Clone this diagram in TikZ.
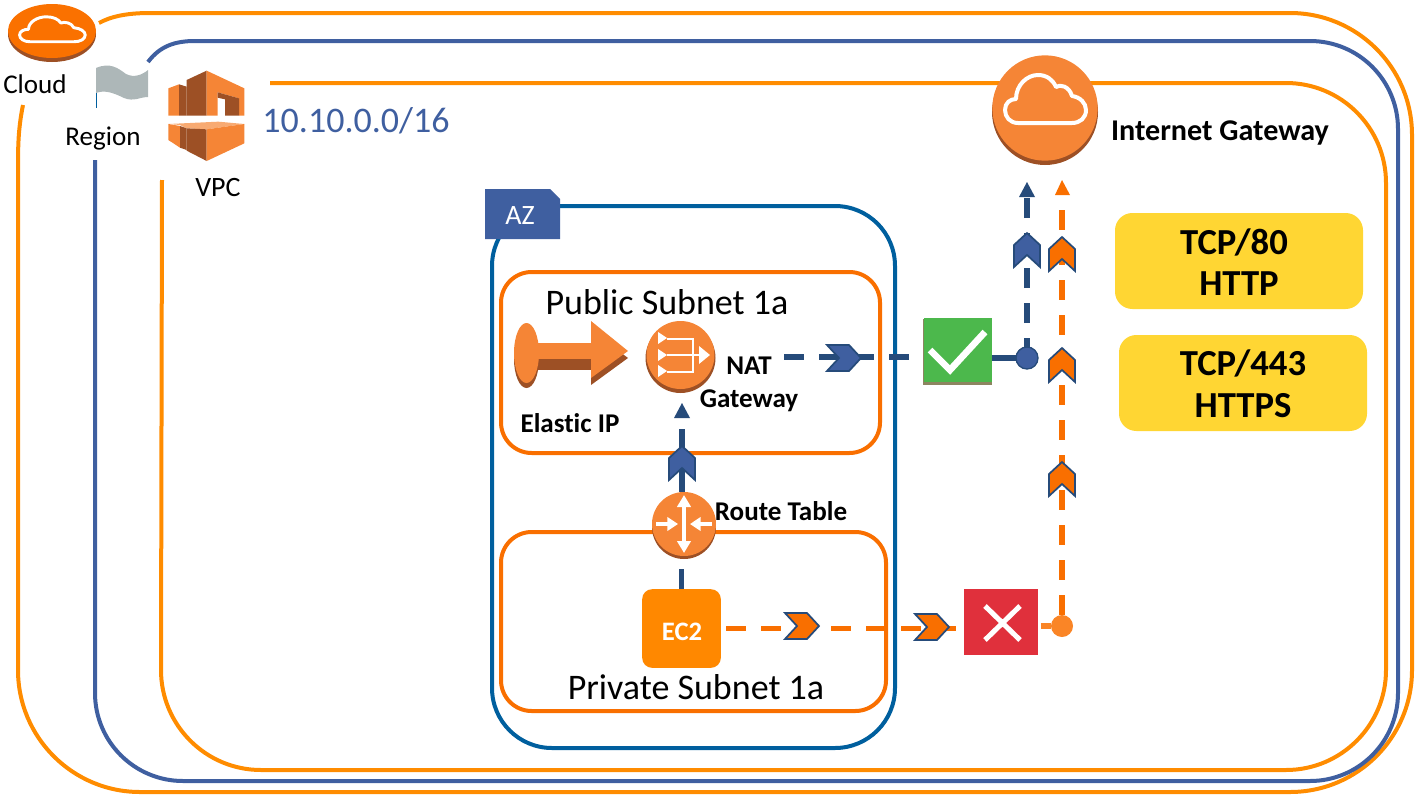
\documentclass[tikz,border=0pt]{standalone}
\usepackage{fontspec}
\setmainfont{Carlito}[Ligatures=NoCommon]
\usetikzlibrary{arrows.meta,shapes.geometric}
\definecolor{frameor}{HTML}{FF8C00}
\definecolor{subor}{HTML}{F96F00}
\definecolor{regblue}{HTML}{3F5FA0}
\definecolor{azblue}{HTML}{005F9E}
\definecolor{dkblue}{HTML}{264B7A}
\definecolor{iconor}{HTML}{F58536}
\definecolor{icondk}{HTML}{9D5025}
\definecolor{flaggrey}{HTML}{ADB7B8}
\definecolor{tcpyel}{HTML}{FFD633}
\definecolor{ectwo}{HTML}{FF8800}
\definecolor{okgreen}{HTML}{4CB84C}
\definecolor{okshade}{HTML}{8C8560}
\definecolor{badred}{HTML}{E0303C}
\newcommand{\fs}[1]{\fontsize{#1}{#1}\selectfont}
\tikzset{
  frameline/.style={line width=3pt},
  subnet/.style={draw=subor,line width=3pt,rounded corners=23pt},
  lbl/.style={inner sep=0pt,text=black,font=\fs{20.3}},
  blbl/.style={inner sep=0pt,text=black,font=\fs{20.3}\bfseries},
  sublbl/.style={inner sep=0pt,text=black,font=\fs{27}},
  tcp/.style={fill=tcpyel,rounded corners=13pt,inner sep=0pt},
  tcptext/.style={inner sep=0pt,text=black,font=\fs{27.5}\bfseries},
  bluedash/.style={draw=dkblue,line width=3.8pt,dash pattern=on 15pt off 11.25pt},
  ordash/.style={draw=subor,line width=3.8pt,dash pattern=on 15pt off 11.25pt},
  blueline/.style={draw=dkblue,line width=3.8pt},
  orline/.style={draw=subor!85!white,line width=3.8pt},
  iconcirc/.style={circle,fill=iconor,inner sep=0pt},
  chev/.pic={
    \path[pic actions,line width=1.3pt,draw=dkblue,line join=miter]
      (-17,-13) -- (5,-13) -- (17,0) -- (5,13) -- (-17,13) -- (-5,0) -- cycle;
  },
  cloudpath/.pic={
    \draw[white,line width=#1,line join=round,pic actions]
      (-27,13) .. controls (-35,13) and (-40,7) .. (-40,0)
      .. controls (-40,-7) and (-35,-11) .. (-29,-11)
      .. controls (-29,-25) and (-18,-35) .. (-7,-35)
      .. controls (2,-35) and (8,-30) .. (11,-23)
      .. controls (15,-26) and (24,-24) .. (27,-14)
      .. controls (35,-13) and (41,-7) .. (41,0)
      .. controls (41,8) and (35,13) .. (27,13) -- cycle;
  }
}
\begin{document}
\begin{tikzpicture}[x=0.75pt,y=-0.75pt]
\useasboundingbox (0,0) rectangle (1424,803);
% frames
\draw[frameline,frameor] (23,105) .. controls (19,125) and (18,140) .. (18,165)
  -- (18,670) arc[start angle=180,end angle=90,radius=122] -- (1290,792)
  arc[start angle=90,end angle=0,radius=122] -- (1412,135)
  arc[start angle=0,end angle=-90,radius=122] -- (150,13)
  .. controls (125,13) and (110,17) .. (99,23);
\draw[frameline,regblue] (95,160) -- (95,693) arc[start angle=180,end angle=90,radius=88] -- (1310,781)
  arc[start angle=90,end angle=0,radius=88] -- (1398,129)
  arc[start angle=0,end angle=-90,radius=88] -- (195,41)
  .. controls (175,41) and (160,46) .. (148,62);
\draw[frameline,frameor] (162,180) -- (161,670) arc[start angle=180,end angle=90,radius=100] -- (1286,770)
  arc[start angle=90,end angle=0,radius=100] -- (1386,183)
  arc[start angle=0,end angle=-90,radius=100] -- (270,83);
% AZ
\draw[line width=3pt,azblue,rounded corners=45pt] (492,206) rectangle (895,748);
\fill[regblue] (485,189) -- (550,189) -- (560,199) -- (560,239) -- (485,239) -- cycle;
\node[inner sep=0pt,text=white,font=\fs{21}] (azlabel) at (520,216) {AZ};
% subnets
\draw[subnet] (501,272) rectangle (880,453);
\draw[subnet] (501,532) rectangle (886,711);
\node[sublbl] (publbl) at (667,302) {Public Subnet 1a};
\node[sublbl] (prilbl) at (696,687) {Private Subnet 1a};
% cloud icon
\fill[icondk] (52,34) ellipse [x radius=44,y radius=28];
\fill[subor!90!orange] (52,31) ellipse [x radius=44,y radius=27];
\node[inner sep=0pt,minimum size=1pt] (cloudicon) at (52,31) {};
\pic[xscale=.81,yscale=.52] at (52,35) {cloudpath=2.2pt};
\node[lbl] (cloudlbl) at (35,84) {Cloud};
% region flag
\draw[azblue,line width=.6pt] (96,70) -- (96,108);
\fill[flaggrey] (96,68) .. controls (110,62) and (118,68) .. (126,74) .. controls (134,78) and (142,75) .. (148,70)
  -- (148,97) .. controls (140,97) and (134,102) .. (124,98) .. controls (112,92) and (104,90) .. (96,93) -- cycle;
\node[lbl] (reglbl) at (103,139) {Region};
% VPC icon
\begin{scope}[x=0.25pt,y=-0.25pt]
\fill[iconor] (505,265) -- (537,253) -- (537,347) -- (505,347) -- cycle;
\fill[icondk] (537,253) -- (560,260) -- (560,347) -- (537,347) -- cycle;
\fill[icondk] (560,240) -- (620,212) -- (620,347) -- (560,347) -- cycle;
\fill[iconor] (620,212) -- (733,265) -- (733,347) -- (717,347) -- (717,295) -- (653,277) -- (653,347) -- (620,347) -- cycle;
\fill[icondk] (653,277) -- (717,295) -- (717,347) -- (675,347) -- (675,298) -- (653,293) -- cycle;
\fill[iconor!70!white] (505,372) -- (655,365) -- (733,372) -- (620,388) -- (560,385) -- (540,375) -- cycle;
\fill[iconor] (505,372) -- (540,378) -- (540,443) -- (505,420) -- cycle;
\fill[icondk] (540,378) -- (560,385) -- (560,450) -- (540,443) -- cycle;
\fill[icondk] (560,385) -- (620,388) -- (620,483) -- (560,452) -- cycle;
\fill[iconor] (620,388) -- (733,372) -- (733,430) -- (620,483) -- cycle;
\end{scope}
\node[inner sep=0pt,text=regblue,font=\fs{27}] (cidr) at (356,121) {10.10.0.0/16};
\node[inner sep=0pt,text=black,font=\fs{21}] (vpclbl) at (218,188) {VPC};
% Elastic IP
\fill[icondk] (526.5,359) ellipse [x radius=12.5,y radius=29];
\fill[icondk] (535,345) rectangle (591,370);
\fill[icondk] (591,330) -- (628,358) -- (591,385) -- cycle;
\fill[iconor] (526.5,353) ellipse [x radius=12.5,y radius=30];
\fill[iconor] (535,343) rectangle (595,359);
\fill[iconor] (591,321) -- (628,351) -- (591,378) -- cycle;
\node[blbl] (eiplbl) at (570,423) {Elastic IP};
% NAT icon
\fill[icondk] (680.5,358) circle (35);
\node[iconcirc,minimum size=51pt] (nat) at (680.5,355) {};
\begin{scope}[white,line width=2pt]
\fill (658,332) -- (667,338) -- (658,344) -- cycle;
\fill (658,349) -- (667,355) -- (658,361) -- cycle;
\fill (658,365) -- (667,371) -- (658,377) -- cycle;
\draw (667,339) -- (693,339) -- (693,372) -- (667,372);
\draw (667,355) -- (700,355);
\fill (699,346) -- (710,355) -- (699,364) -- cycle;
\end{scope}
\node[blbl] (natlbl) at (749,366) {NAT};
\node[blbl] (gwlbl) at (749,401) {Gateway};
% route table
\fill[icondk] (684,527) circle (32);
\node[iconcirc,minimum size=48pt] (router) at (684,524) {};
\draw[white,line width=3.4pt,{Triangle[width=10pt,length=9pt]}-{Triangle[width=10pt,length=9pt]}] (684,495) -- (684,553);
\draw[white,line width=3.4pt,-{Triangle[width=10pt,length=8pt]}] (656,524) -- (678,524);
\draw[white,line width=3.4pt,-{Triangle[width=10pt,length=8pt]}] (712,524) -- (690,524);
\node[blbl] (rtlbl) at (781,511) {Route Table};
% EC2
\node[fill=ectwo,rounded corners=7.5pt,minimum size=59pt,inner sep=0pt] (ec2) at (681.5,628.5) {};
\node[inner sep=0pt,text=white,font=\fs{20}\bfseries] (ec2lbl) at (682,632) {EC2};
% Internet gateway
\fill[icondk] (1045,112) circle (53);
\node[iconcirc,minimum size=79pt] (igw) at (1045,108) {};
\pic at (1045,110) {cloudpath=3pt};
\node[inner sep=0pt,text=black,font=\fs{22.6}\bfseries] (igwlbl) at (1220,133) {Internet Gateway};
% TCP
\node[tcp,minimum width=186pt,minimum height=72pt] (tcpa) at (1239,261) {};
\node[tcptext] (tcpatop) at (1234,242) {TCP/80};
\node[tcptext] (tcpabot) at (1239,284) {HTTP};
\node[tcp,minimum width=186pt,minimum height=72pt] (tcpb) at (1243,383) {};
\node[tcptext] (tcpbtop) at (1243,363) {TCP/443};
\node[tcptext] (tcpbbot) at (1243,406) {HTTPS};
% status boxes
\node[fill=okshade,minimum width=52pt,minimum height=49pt,inner sep=0pt] (okshadow) at (957.5,352) {};
\node[fill=okgreen,minimum width=51pt,minimum height=48pt,inner sep=0pt] (okbox) at (957.5,350) {};
\draw[white,line width=5pt] (930,350) -- (950,370) -- (985,332);
\node[fill=badred,minimum width=55.5pt,minimum height=49.5pt,inner sep=0pt] (nobox) at (1001,622) {};
\draw[white,line width=3.8pt] (985,606) -- (1020,640) (1020,606) -- (985,640);
% dots
\coordinate (natout) at (784,357);
\coordinate (igwblue) at (1027,198);
\coordinate (igworange) at (1062,195);
\coordinate (natin) at (682,429);
\node[circle,fill=subor!85!white,minimum size=16.5pt,inner sep=0pt] (ordot) at (1062,626) {};
% connectors
\draw[ordash,shorten <=3.75pt] (ec2.east) -- (ec2.east -| nobox.west);
\draw[orline,shorten <=2pt] (nobox.east |- ordot) -- (ordot);
\draw[ordash] (ordot.north) -- (igworange);
\draw[bluedash] (natout) -- (natout -| okbox.west);
\draw[blueline] (okbox.east |- 0,358) -- (1027,358);
\draw[bluedash] (1027,358) -- (igwblue);
\node[circle,fill=regblue,draw=dkblue,line width=1pt,minimum size=16.5pt,inner sep=0pt] (bldot) at (1027,358) {};
\draw[blueline] (router.north -| natin) -- (natin);
\draw[blueline] (ec2.north) -- ++(0,-20);
% tips
\fill[dkblue] (682,403) -- (674,418) -- (690,418) -- cycle;
\fill[dkblue] (1027,182) -- (1019,197) -- (1035,197) -- cycle;
\fill[subor] (1062,180) -- (1055,195) -- (1070,195) -- cycle;
% chevrons
\pic[fill=regblue] at (844,358) {chev};
\pic[fill=regblue,rotate=90] at (682,463) {chev};
\pic[fill=regblue,rotate=90] at (1027,250) {chev};
\pic[fill=subor,rotate=90] at (1062,254) {chev};
\pic[fill=subor,rotate=90] at (1062,365) {chev};
\pic[fill=subor,rotate=90] at (1062,479) {chev};
\pic[fill=subor] at (802,626) {chev};
\pic[fill=subor] at (932,627) {chev};
\end{tikzpicture}
\end{document}
